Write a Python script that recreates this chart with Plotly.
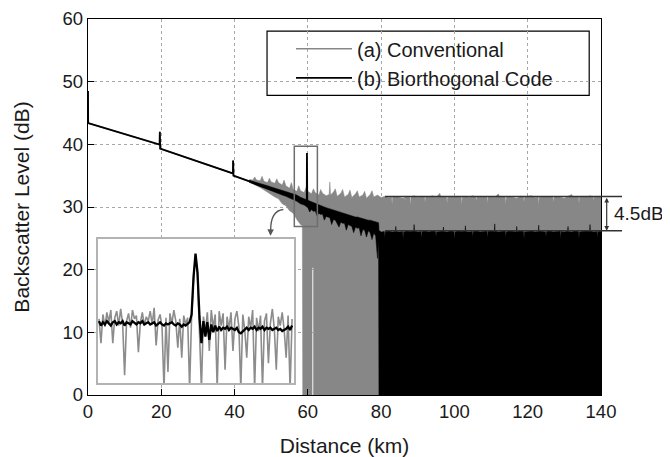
import plotly.graph_objects as go

# ---------------- data ----------------
# main centre traces (km, dB)
conv_line_km = [0, 0.05, 19.55, 19.6, 19.7, 39.55, 39.6, 39.7, 45, 50, 55, 58]
conv_line_db = [48.5, 43.4, 39.95, 42.0, 39.3, 35.35, 37.4, 35.0, 33.9, 32.9, 31.9, 31.2]

bio_line_km = [0, 0.05, 19.55, 19.6, 19.7, 39.55, 39.6, 39.7, 45, 50, 55, 59.7, 59.75, 59.85,
               62, 66, 70, 74, 78, 79.3]
bio_line_db = [48.5, 43.4, 39.95, 42.0, 39.3, 35.35, 37.4, 35.0, 33.9, 32.9, 31.9, 30.6, 38.6, 30.5,
               29.9, 29.0, 28.2, 27.6, 27.1, 26.9]

# conventional trace: upper / lower envelope of the noisy region
conv_upper_km = [44, 45, 45.5, 46, 47, 47.5, 48, 49, 49.5, 50, 51, 51.5, 52, 53, 53.5, 54, 55, 55.5,
                 56, 57, 57.5, 58, 59, 59.5, 60, 61, 61.5, 62, 63, 63.5, 64, 65, 65.8, 66, 66.2, 67,
                 67.5, 68, 69, 69.5, 70, 71, 71.5, 72, 73, 73.5, 74, 75, 75.5, 76, 77, 77.5, 78, 79,
                 80, 81, 82, 82.85, 83, 83.15, 84, 85, 86, 86.4, 86.5, 86.6, 87, 87.85, 88, 88.15,
                 89, 90, 91, 91.85, 92, 92.15, 93, 94, 95, 96, 96.3, 97, 97.85, 98, 98.15, 99, 100,
                 101, 101.85, 102, 102.15, 103, 104, 105, 105.85, 106, 106.15, 107, 108, 108.85, 109,
                 109.15, 110, 111, 112, 112.3, 113, 113.85, 114, 114.15, 115, 116, 117, 118, 118.85,
                 119, 119.15, 120, 121, 122, 122.85, 123, 123.15, 124, 125, 126, 126.85, 127, 127.15,
                 128, 129, 130, 131, 132, 132.3, 133, 133.85, 134, 134.15, 135, 136, 137, 137.85,
                 138, 138.15, 139, 140]
conv_upper_db = [34.4, 34.3, 34.8, 34.3, 34.2, 34.9, 34.1, 33.9, 34.6, 34.0, 33.8, 34.5, 33.9, 33.5,
                 34.3, 33.4, 33.0, 33.9, 32.8, 32.5, 33.4, 32.6, 32.3, 33.1, 32.5, 32.1, 32.9, 32.3,
                 31.9, 32.8, 32.2, 31.8, 32.0, 34.0, 31.9, 32.4, 32.9, 31.7, 32.2, 32.8, 31.6, 32.0,
                 32.7, 31.5, 32.1, 32.6, 31.6, 31.9, 32.5, 31.4, 32.0, 32.6, 31.6, 31.9,
                 31.5, 31.7, 31.5, 31.6, 30.4, 31.6, 31.7, 31.6, 31.4, 31.6, 30.9, 31.6, 31.7, 31.5,
                 30.2, 31.6, 31.8, 31.5, 31.7, 31.6, 30.7, 31.6, 31.6, 31.8, 31.5, 32.2, 31.6, 31.7,
                 31.6, 30.6, 31.5, 31.7, 31.6, 31.7, 31.6, 30.3, 31.6, 31.7, 31.5, 31.8, 31.6, 30.9,
                 31.6, 31.7, 31.6, 31.7, 30.5, 31.6, 31.7, 31.5, 32.1, 31.6, 31.7, 31.6, 30.4, 31.5,
                 31.7, 31.6, 31.4, 31.7, 31.6, 30.8, 31.6, 31.7, 31.8, 31.5, 31.6, 30.3, 31.6, 31.7,
                 31.6, 31.7, 31.6, 30.7, 31.5, 31.7, 31.6, 31.4, 31.7, 32.0, 31.6, 31.6, 31.7, 30.5,
                 31.6, 31.7, 31.6, 31.8, 31.6, 31.0, 31.6, 31.7, 31.7]
conv_lower_km = [44, 45, 46, 47, 48, 49, 50, 51, 52, 53, 54, 55, 56, 57, 58, 58.5, 58.6,
                 61.15, 61.15, 61.55, 61.55, 140]
conv_lower_db = [34.0, 33.7, 33.4, 33.1, 32.8, 32.4, 32.0, 31.6, 31.3, 30.5, 30.2, 29.4, 29.0, 28.0,
                 27.2, 27.0, 0, 0, 20.3, 20.3, 0, 0]

# biorthogonal trace: upper / lower envelope of the noisy region
bio_upper_km = [44, 45, 46, 47, 48, 49, 50, 51, 52, 53, 54, 55, 56, 57, 58, 59, 60, 60.5, 61, 61.5,
                62, 62.5, 63, 63.5, 64, 64.5, 65, 65.5, 66, 66.5, 67, 67.5, 68, 68.5, 69, 69.5, 70,
                70.5, 71, 71.5, 72, 72.5, 73, 73.5, 74, 74.5, 75, 75.5, 76, 76.5, 77, 77.5, 78, 78.5,
                79, 79.3,
                79.4, 80, 80.85, 81, 81.15, 82, 83, 83.9, 84, 84.1, 85, 85.85, 86, 86.15, 87, 88,
                88.9, 89, 89.1, 90, 90.85, 91, 91.15, 92, 93, 94, 94.85, 95, 95.15, 96, 96.9, 97,
                97.1, 98, 99, 99.85, 100, 100.15, 101, 102, 102.9, 103, 103.1, 104, 104.85, 105,
                105.15, 106, 107, 108, 108.85, 109, 109.15, 110, 110.9, 111, 111.1, 112, 113, 113.85,
                114, 114.15, 115, 116, 116.9, 117, 117.1, 118, 118.85, 119, 119.15, 120, 121, 122,
                122.9, 123, 123.1, 124, 124.85, 125, 125.15, 126, 127, 128, 128.85, 129, 129.15,
                130, 130.9, 131, 131.1, 132, 133, 133.85, 134, 134.15, 135, 136, 136.9, 137, 137.1,
                138, 138.85, 139, 139.15, 140]
bio_upper_db = [34.25, 34.1, 33.9, 33.75, 33.55, 33.4, 33.2, 33.0, 32.85, 32.7, 32.5, 32.3, 32.1, 31.9,
                31.55, 31.3, 31.1, 30.9, 30.8, 30.7, 30.5, 30.4, 30.3, 30.2, 30.1, 30.0, 29.9, 29.8,
                29.7, 29.6, 29.6, 29.4, 29.3, 29.3, 29.1, 29.0, 28.9, 28.8, 28.8, 28.6, 28.6, 28.5,
                28.4, 28.4, 28.3, 28.3, 28.1, 28.1, 28.0, 27.9, 27.9, 27.8, 27.8, 27.7, 27.6, 27.5,
                26.3, 26.0, 26.1, 25.1, 26.1, 26.2, 26.0, 26.1, 26.9, 26.1, 26.0, 26.1, 24.9, 26.0,
                26.2, 26.1, 26.2, 27.2, 26.2, 26.0, 26.1, 25.0, 26.1, 26.2, 26.0, 26.2, 26.1, 25.3,
                26.0, 26.1, 26.2, 26.8, 26.1, 26.0, 26.2, 26.1, 24.8, 26.0, 26.2, 26.1, 26.2, 27.0,
                26.1, 26.0, 26.1, 25.2, 26.1, 26.2, 26.0, 26.1, 26.2, 25.0, 26.1, 26.2, 26.1, 27.3,
                26.2, 26.0, 26.1, 26.2, 25.1, 26.0, 26.2, 26.1, 26.0, 26.9, 26.1, 26.2, 26.1, 24.9,
                26.0, 26.1, 26.2, 26.0, 26.1, 27.1, 26.2, 26.1, 26.0, 25.2, 26.1, 26.2, 26.0, 26.1,
                26.2, 24.9, 26.1, 26.0, 26.2, 26.9, 26.1, 26.0, 26.2, 26.1, 25.0, 26.0, 26.1, 26.2,
                26.1, 27.2, 26.2, 26.0, 26.1, 25.2, 26.1, 26.1]
bio_lower_km = [44, 45, 46, 47, 48, 49, 50, 51, 52, 53, 54, 55, 56, 57, 58, 59, 60, 60.5, 61, 61.5,
                62, 62.5, 63, 63.5, 64, 64.5, 65, 65.5, 66, 66.5, 67, 67.5, 68, 68.5, 69, 69.5, 70,
                70.5, 71, 71.5, 72, 72.5, 73, 73.5, 74, 74.5, 75, 75.5, 76, 76.5, 77, 77.5, 78, 78.5,
                79, 79.3, 79.4, 140]
bio_lower_db = [33.95, 33.7, 33.5, 33.25, 33.05, 32.8, 32.6, 32.4, 32.15, 31.9, 31.7, 31.5, 31.2, 30.9,
                30.5, 30.3, 29.9, 29.2, 29.6, 29.3, 29.4, 28.6, 29.0, 28.8, 28.9, 27.9, 28.5, 28.4,
                28.3, 27.2, 28.0, 27.9, 27.5, 26.8, 27.6, 27.4, 27.4, 26.3, 27.2, 27.1, 26.9, 25.9,
                26.8, 26.6, 26.7, 25.4, 26.4, 26.3, 25.2, 26.2, 25.9, 24.8, 25.8, 25.4, 21.8, 24.5,
                0, 0]

# inset: zoom on the reflective event near 59.5 km
inset_km = [round(56.5 + 0.06 * i, 2) for i in range(99)]
inset_conv_db = [32.8, 30.6, 33.2, 32.1, 33.4, 32.5, 33.6, 30.6, 32.9, 33.5, 32.2, 33.7, 32.4, 27.7,
                 32.6, 33.3, 32.0, 33.6, 32.8, 33.1, 29.8, 32.5, 33.4, 32.2, 33.0, 32.6, 33.5, 32.3,
                 33.8, 30.4, 32.7, 33.2, 32.1, 26.5, 32.9, 28.0, 33.3, 32.4, 33.6, 32.6, 30.2, 32.8,
                 29.3, 33.1, 32.3, 32.9, 26.5, 33.0, 36.4, 38.6, 36.8, 32.0, 26.5, 33.0, 31.6, 33.4,
                 29.9, 33.6, 32.0, 33.2, 26.5, 33.5, 32.2, 33.3, 28.2, 33.0, 31.9, 33.4, 29.9, 32.8,
                 33.5, 32.1, 26.5, 33.2, 31.8, 29.3, 33.0, 32.0, 33.6, 26.5, 32.9, 31.7, 33.1, 26.5,
                 32.6, 33.3, 28.8, 32.4, 33.7, 31.9, 28.2, 33.0, 32.2, 33.4, 31.8, 29.3, 33.1, 26.5,
                 32.8]
inset_bio_db = [32.6, 32.2, 32.5, 32.3, 32.6, 32.4, 32.2, 32.5, 32.6, 32.3, 32.5, 32.4, 32.6, 32.2,
                32.5, 32.4, 32.3, 32.6, 32.4, 32.3, 32.5, 32.4, 32.6, 32.3, 32.4, 32.5, 32.3, 32.4,
                32.5, 32.2, 32.4, 32.5, 32.3, 32.2, 32.4, 32.3, 32.4, 32.5, 32.3, 32.2, 32.4, 32.3,
                32.1, 32.3, 32.2, 32.4, 32.5, 33.2, 36.6, 38.7, 37.0, 33.0, 30.6, 32.6, 31.2, 32.5,
                30.9, 32.3, 31.6, 32.2, 31.7, 32.1, 31.8, 32.0, 31.9, 32.1, 31.8, 32.0, 31.9, 31.8,
                32.0, 31.6, 31.5, 31.7, 31.9, 32.0, 31.8, 32.0, 31.9, 32.1, 31.8, 32.0, 31.9, 32.1,
                31.8, 32.0, 31.9, 32.0, 31.8, 31.9, 32.0, 31.8, 31.9, 31.7, 31.8, 31.9, 32.1, 31.8,
                32.2]

x_ticks = [0, 20, 40, 60, 80, 100, 120, 140]
y_ticks = [0, 10, 20, 30, 40, 50, 60]
series_names = ["(a) Conventional", "(b) Biorthogonal Code"]

# ---------------- styling ----------------
GRAY = "#878787"
FONT = "Liberation Sans, Arial, sans-serif"
TXT = "#1a1a1a"

fig = go.Figure()

fig.add_trace(go.Scatter(x=conv_upper_km + conv_lower_km[::-1], y=conv_upper_db + conv_lower_db[::-1],
                         mode="lines", fill="toself", fillcolor=GRAY, line=dict(color=GRAY, width=0.5),
                         showlegend=False, hoverinfo="skip"))
fig.add_trace(go.Scatter(x=conv_line_km, y=conv_line_db, mode="lines", name=series_names[0],
                         line=dict(color=GRAY, width=1.6)))
fig.add_trace(go.Scatter(x=bio_upper_km + bio_lower_km[::-1], y=bio_upper_db + bio_lower_db[::-1],
                         mode="lines", fill="toself", fillcolor="#000000", line=dict(color="#000000", width=0.5),
                         showlegend=False, hoverinfo="skip"))
fig.add_trace(go.Scatter(x=bio_line_km, y=bio_line_db, mode="lines", name=series_names[1],
                         line=dict(color="#000000", width=1.8)))

fig.add_trace(go.Scatter(x=inset_km, y=inset_conv_db, mode="lines", xaxis="x2", yaxis="y2",
                         line=dict(color="#8c8c8c", width=1.6), showlegend=False, hoverinfo="skip"))
fig.add_trace(go.Scatter(x=inset_km, y=inset_bio_db, mode="lines", xaxis="x2", yaxis="y2",
                         line=dict(color="#000000", width=2.3), showlegend=False, hoverinfo="skip"))

axis_common = dict(showline=True, mirror=True, linecolor="#000000", linewidth=1.3,
                   ticks="inside", ticklen=6, tickcolor="#000000", tickwidth=1.2,
                   showgrid=True, gridcolor="#a8a8a8", griddash="dot", gridwidth=1,
                   zeroline=False, automargin=False, ticklabeloverflow="allow",
                   tickfont=dict(size=18.5, color=TXT, family=FONT))

# the page body adds an 8 px offset, so the figure is 8 px smaller and margins compensate
fig.update_layout(
    width=662, height=449,
    margin=dict(l=80, r=69, t=11, b=62, autoexpand=False),
    paper_bgcolor="white", plot_bgcolor="white",
    font=dict(family=FONT, color=TXT),
    xaxis=dict(range=[0, 140], tickvals=x_ticks, domain=[0, 1],
               title=dict(text="Distance (km)", font=dict(size=21, color=TXT), standoff=16),
               **axis_common),
    yaxis=dict(range=[0, 60], tickvals=y_ticks, domain=[0, 1],
               title=dict(text="Backscatter Level (dB)", font=dict(size=21, color=TXT), standoff=27),
               **axis_common),
    xaxis2=dict(domain=[0.0195, 0.4016], anchor="y2", range=[56.47, 62.44], showline=True, mirror=True,
                linecolor="#b3b3b3", linewidth=1.5, showticklabels=False, ticks="", showgrid=False,
                zeroline=False),
    yaxis2=dict(domain=[0.0317, 0.4142], anchor="x2", range=[27.0, 40.0], showline=True, mirror=True,
                linecolor="#b3b3b3", linewidth=1.5, showticklabels=False, ticks="", showgrid=False,
                zeroline=False),
    legend=dict(x=0.3957, y=0.9726, xanchor="left", yanchor="top", bgcolor="rgba(0,0,0,0)",
                borderwidth=0, font=dict(size=20, color=TXT, family=FONT), itemwidth=56,
                tracegroupgap=0),
    showlegend=True,
)

shapes = [
    dict(type="rect", xref="paper", yref="paper", x0=0.349, x1=0.977, y0=0.797, y1=0.968,
         line=dict(color="#000000", width=1.2), fillcolor="white", layer="below"),
    dict(type="rect", xref="x", yref="y", x0=56.3, x1=62.6, y0=26.9, y1=39.7,
         line=dict(color="#6e6e6e", width=1.5)),
    dict(type="path", xref="x", yref="y", path="M 53.3,29.6 Q 49.8,29.4 49.85,26.2",
         line=dict(color="#555555", width=1.3)),
    dict(type="line", xref="paper", yref="y", x0=0.579, x1=1.041, y0=31.66, y1=31.66,
         line=dict(color="#333333", width=1.5)),
    dict(type="line", xref="paper", yref="y", x0=0.579, x1=1.041, y0=26.2, y1=26.2,
         line=dict(color="#333333", width=1.5)),
]
fig.update_layout(shapes=shapes)

fig.add_annotation(x=49.8, y=25.4, xref="x", yref="y", ax=49.85, ay=26.6, axref="x", ayref="y",
                   text="", showarrow=True, arrowhead=2, arrowsize=1, arrowwidth=1.3,
                   arrowcolor="#555555")
fig.add_annotation(x=1.0111, y=26.2, xref="paper", yref="y", ax=0, ay=-34.5, text="",
                   showarrow=True, arrowhead=2, arrowside="end+start", arrowsize=0.8, arrowwidth=1.2,
                   arrowcolor="#333333", standoff=0, startstandoff=0)
fig.add_annotation(x=1.0214, y=28.9, xref="paper", yref="y", text="4.5dB", showarrow=False,
                   xanchor="left", yanchor="middle", font=dict(size=19, color=TXT, family=FONT))

fig.write_html("out.html")
